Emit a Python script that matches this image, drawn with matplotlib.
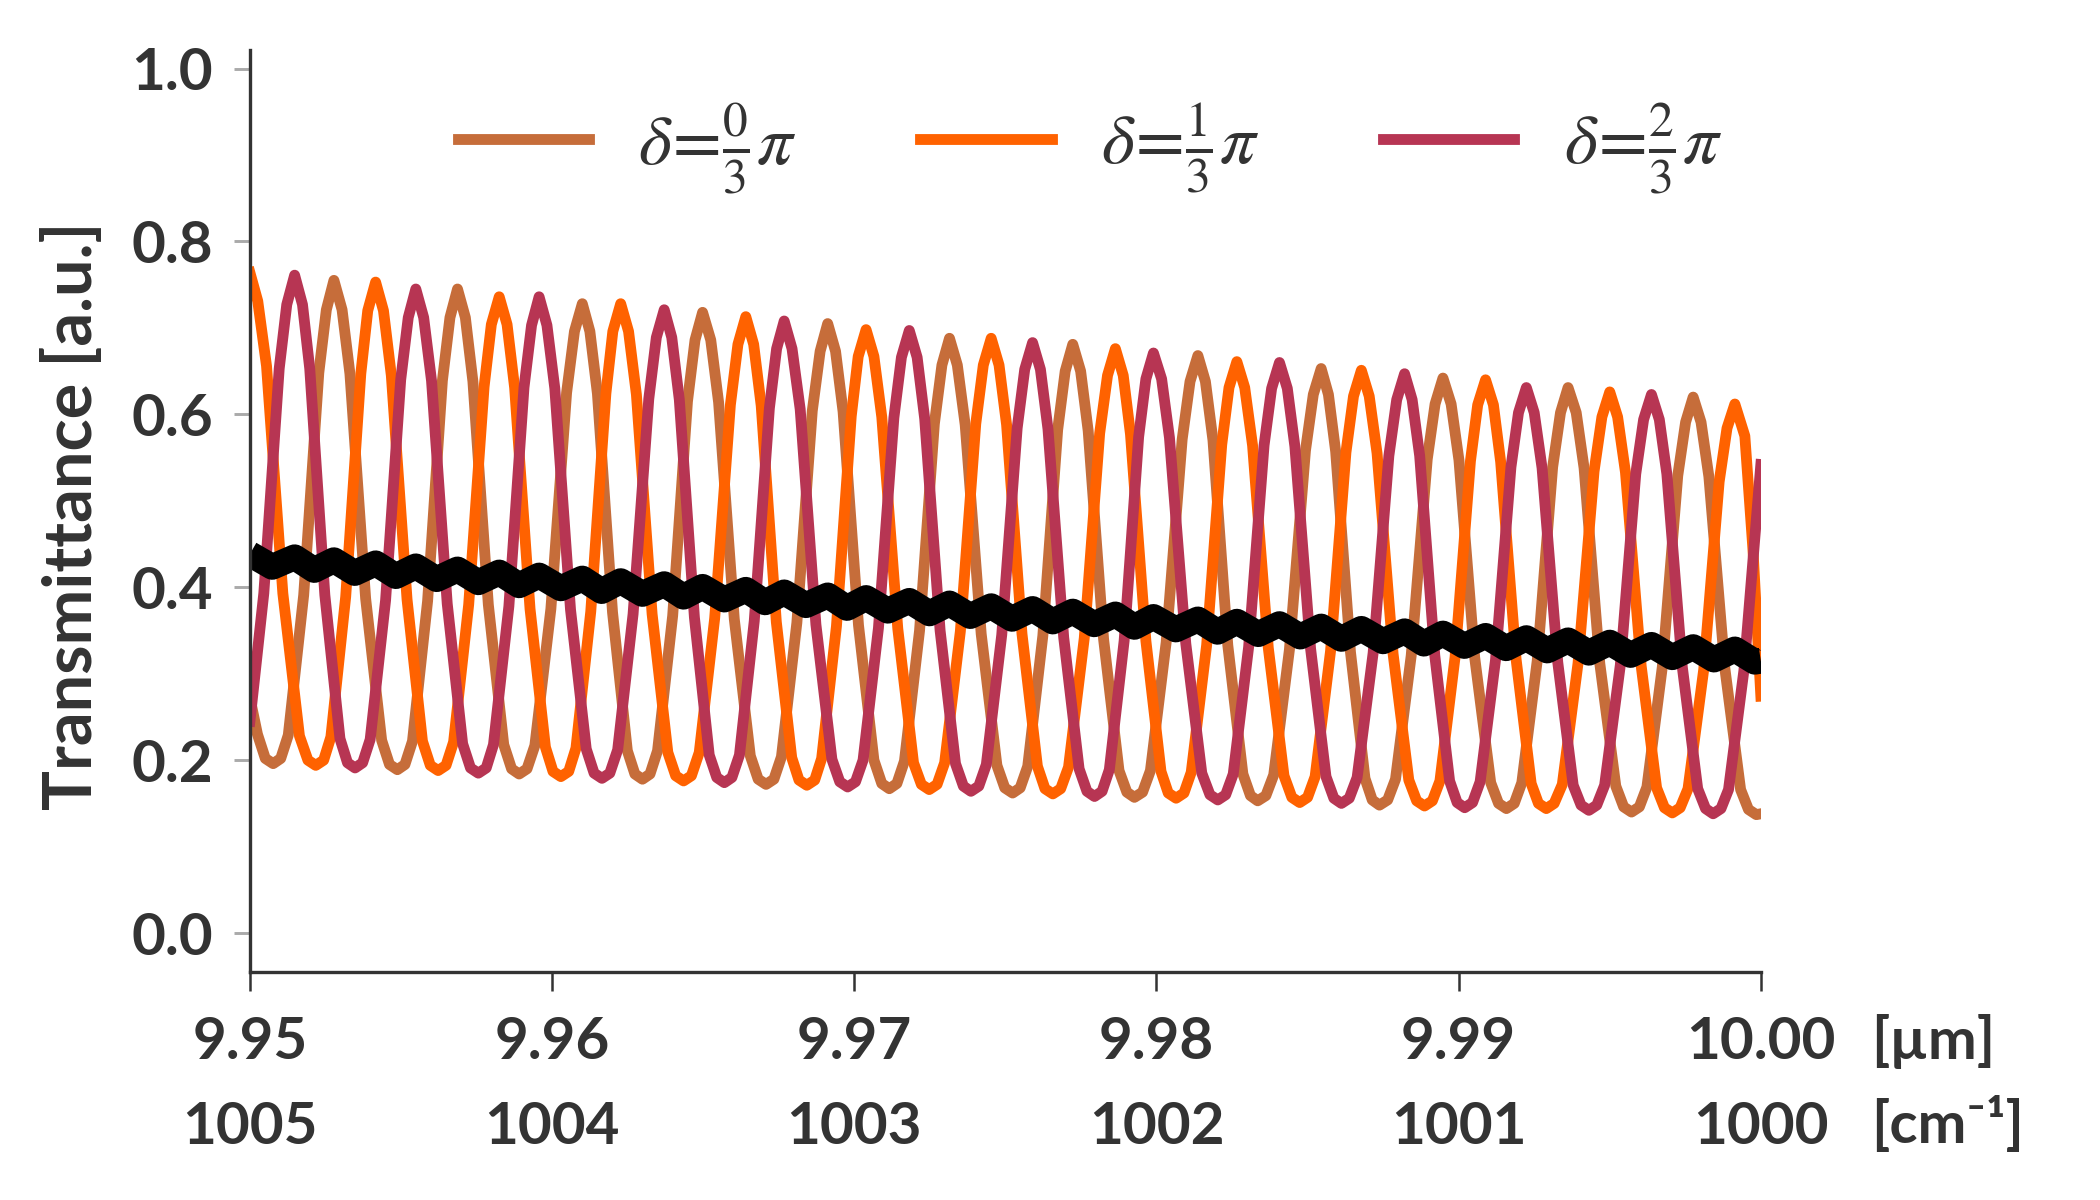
import numpy as np
import matplotlib
matplotlib.use("Agg")
import matplotlib.pyplot as plt

# ---- data (wavelength in um, transmittance a.u.) ----
x_ticks_um = [9.95, 9.96, 9.97, 9.98, 9.99, 10.00]
x_tick_labels_um = ["9.95", "9.96", "9.97", "9.98", "9.99", "10.00"]
x_tick_labels_cm = ["1005", "1004", "1003", "1002", "1001", "1000"]
y_ticks = [0.0, 0.2, 0.4, 0.6, 0.8, 1.0]

series_labels = [r"$\delta\!=\!\frac{0}{3}\pi$", r"$\delta\!=\!\frac{1}{3}\pi$", r"$\delta\!=\!\frac{2}{3}\pi$"]
series_colors = ["#c66d3a", "#ff6200", "#b73553"]

# delta = 0/3 pi
x_d0 = [9.95000, 9.95025, 9.95051, 9.95077, 9.95102, 9.95127, 9.95178, 9.95228, 9.95253, 9.95278,
        9.95305, 9.95331, 9.95383, 9.95436, 9.95462, 9.95488, 9.95513, 9.95538, 9.95588, 9.95637,
        9.95662, 9.95687, 9.95713, 9.95738, 9.95789, 9.95840, 9.95866, 9.95891, 9.95917, 9.95943,
        9.95996, 9.96048, 9.96074, 9.96100, 9.96125, 9.96150, 9.96200, 9.96249, 9.96274, 9.96299,
        9.96324, 9.96349, 9.96399, 9.96448, 9.96473, 9.96498, 9.96525, 9.96551, 9.96603, 9.96656,
        9.96682, 9.96708, 9.96734, 9.96759, 9.96810, 9.96861, 9.96887, 9.96912, 9.96938, 9.96963,
        9.97014, 9.97065, 9.97091, 9.97116, 9.97141, 9.97166, 9.97216, 9.97265, 9.97290, 9.97315,
        9.97341, 9.97367, 9.97420, 9.97472, 9.97498, 9.97524, 9.97549, 9.97574, 9.97624, 9.97673,
        9.97698, 9.97723, 9.97749, 9.97774, 9.97825, 9.97876, 9.97902, 9.97927, 9.97954, 9.97980,
        9.98032, 9.98085, 9.98111, 9.98137, 9.98162, 9.98187, 9.98236, 9.98286, 9.98311, 9.98335,
        9.98362, 9.98388, 9.98440, 9.98493, 9.98519, 9.98545, 9.98569, 9.98593, 9.98642, 9.98690,
        9.98714, 9.98738, 9.98765, 9.98791, 9.98843, 9.98896, 9.98922, 9.98948, 9.98975, 9.99001,
        9.99053, 9.99106, 9.99132, 9.99158, 9.99184, 9.99209, 9.99260, 9.99311, 9.99337, 9.99362,
        9.99389, 9.99415, 9.99467, 9.99520, 9.99546, 9.99572, 9.99598, 9.99623, 9.99674, 9.99725,
        9.99751, 9.99776, 9.99802, 9.99828, 9.99881, 9.99933, 9.99959, 9.99985, 10.00000]
y_d0 = [0.272, 0.230, 0.202, 0.196, 0.202, 0.229, 0.391, 0.648, 0.721, 0.755,
        0.721, 0.647, 0.387, 0.223, 0.195, 0.189, 0.195, 0.222, 0.384, 0.639,
        0.712, 0.745, 0.712, 0.638, 0.380, 0.218, 0.190, 0.184, 0.190, 0.217,
        0.375, 0.625, 0.696, 0.728, 0.696, 0.624, 0.371, 0.211, 0.184, 0.178,
        0.184, 0.211, 0.367, 0.615, 0.686, 0.718, 0.686, 0.614, 0.363, 0.205,
        0.178, 0.172, 0.178, 0.204, 0.359, 0.604, 0.673, 0.705, 0.673, 0.603,
        0.356, 0.200, 0.173, 0.167, 0.173, 0.199, 0.350, 0.589, 0.657, 0.688,
        0.657, 0.588, 0.346, 0.194, 0.168, 0.162, 0.168, 0.193, 0.344, 0.582,
        0.650, 0.681, 0.650, 0.581, 0.340, 0.188, 0.163, 0.157, 0.163, 0.188,
        0.336, 0.571, 0.638, 0.668, 0.638, 0.570, 0.333, 0.184, 0.159, 0.153,
        0.159, 0.183, 0.328, 0.558, 0.623, 0.653, 0.623, 0.557, 0.325, 0.179,
        0.154, 0.148, 0.154, 0.178, 0.321, 0.548, 0.612, 0.642, 0.612, 0.547,
        0.319, 0.174, 0.150, 0.144, 0.150, 0.174, 0.315, 0.539, 0.602, 0.631,
        0.602, 0.538, 0.312, 0.170, 0.146, 0.140, 0.146, 0.169, 0.308, 0.529,
        0.591, 0.620, 0.591, 0.528, 0.306, 0.166, 0.143, 0.137, 0.138]

# delta = 1/3 pi
x_d1 = [9.95000, 9.95026, 9.95055, 9.95109, 9.95164, 9.95192, 9.95218, 9.95244, 9.95268, 9.95317,
        9.95367, 9.95390, 9.95416, 9.95442, 9.95468, 9.95520, 9.95571, 9.95597, 9.95623, 9.95649,
        9.95674, 9.95724, 9.95775, 9.95799, 9.95825, 9.95851, 9.95876, 9.95927, 9.95978, 9.96003,
        9.96029, 9.96055, 9.96079, 9.96128, 9.96178, 9.96201, 9.96227, 9.96253, 9.96279, 9.96331,
        9.96383, 9.96409, 9.96435, 9.96461, 9.96487, 9.96538, 9.96590, 9.96615, 9.96641, 9.96667,
        9.96692, 9.96742, 9.96793, 9.96817, 9.96843, 9.96869, 9.96892, 9.96941, 9.96990, 9.97013,
        9.97039, 9.97065, 9.97091, 9.97144, 9.97196, 9.97222, 9.97248, 9.97274, 9.97299, 9.97351,
        9.97402, 9.97427, 9.97453, 9.97479, 9.97504, 9.97555, 9.97606, 9.97631, 9.97657, 9.97683,
        9.97709, 9.97761, 9.97812, 9.97838, 9.97864, 9.97890, 9.97914, 9.97965, 9.98015, 9.98039,
        9.98065, 9.98091, 9.98115, 9.98166, 9.98216, 9.98240, 9.98266, 9.98292, 9.98318, 9.98370,
        9.98422, 9.98448, 9.98474, 9.98500, 9.98525, 9.98576, 9.98627, 9.98652, 9.98678, 9.98704,
        9.98730, 9.98783, 9.98835, 9.98861, 9.98887, 9.98913, 9.98938, 9.98988, 9.99039, 9.99063,
        9.99089, 9.99115, 9.99139, 9.99190, 9.99240, 9.99264, 9.99290, 9.99316, 9.99343, 9.99395,
        9.99448, 9.99474, 9.99500, 9.99526, 9.99552, 9.99604, 9.99655, 9.99681, 9.99707, 9.99733,
        9.99759, 9.99811, 9.99862, 9.99888, 9.99914, 9.99947, 9.99974, 10.00000]
y_d1 = [0.764, 0.731, 0.656, 0.393, 0.228, 0.200, 0.194, 0.200, 0.227, 0.389,
        0.647, 0.720, 0.753, 0.720, 0.645, 0.386, 0.222, 0.194, 0.188, 0.194,
        0.221, 0.380, 0.632, 0.704, 0.736, 0.704, 0.631, 0.375, 0.215, 0.187,
        0.181, 0.187, 0.214, 0.372, 0.624, 0.696, 0.728, 0.696, 0.623, 0.369,
        0.209, 0.182, 0.176, 0.182, 0.209, 0.364, 0.611, 0.681, 0.713, 0.681,
        0.610, 0.360, 0.203, 0.177, 0.171, 0.177, 0.202, 0.355, 0.598, 0.667,
        0.698, 0.667, 0.597, 0.352, 0.197, 0.172, 0.166, 0.172, 0.197, 0.349,
        0.589, 0.657, 0.688, 0.657, 0.588, 0.346, 0.193, 0.167, 0.161, 0.167,
        0.192, 0.341, 0.578, 0.645, 0.676, 0.645, 0.577, 0.338, 0.187, 0.162,
        0.156, 0.162, 0.186, 0.333, 0.565, 0.631, 0.661, 0.631, 0.564, 0.330,
        0.182, 0.157, 0.151, 0.157, 0.181, 0.326, 0.556, 0.621, 0.651, 0.621,
        0.555, 0.323, 0.177, 0.153, 0.147, 0.153, 0.176, 0.319, 0.546, 0.611,
        0.640, 0.611, 0.545, 0.317, 0.173, 0.150, 0.144, 0.150, 0.172, 0.312,
        0.534, 0.597, 0.626, 0.597, 0.533, 0.309, 0.168, 0.145, 0.139, 0.145,
        0.167, 0.305, 0.522, 0.584, 0.612, 0.575, 0.443, 0.274]

# delta = 2/3 pi
x_d2 = [9.95000, 9.95046, 9.95097, 9.95122, 9.95148, 9.95174, 9.95198, 9.95248, 9.95298, 9.95323,
        9.95348, 9.95373, 9.95398, 9.95449, 9.95499, 9.95524, 9.95549, 9.95575, 9.95601, 9.95653,
        9.95704, 9.95730, 9.95756, 9.95782, 9.95806, 9.95857, 9.95907, 9.95932, 9.95957, 9.95983,
        9.96009, 9.96061, 9.96113, 9.96139, 9.96165, 9.96191, 9.96217, 9.96268, 9.96320, 9.96345,
        9.96371, 9.96396, 9.96421, 9.96471, 9.96520, 9.96545, 9.96570, 9.96595, 9.96620, 9.96669,
        9.96719, 9.96743, 9.96768, 9.96794, 9.96821, 9.96873, 9.96926, 9.96952, 9.96978, 9.97004,
        9.97029, 9.97080, 9.97131, 9.97156, 9.97182, 9.97208, 9.97233, 9.97284, 9.97335, 9.97361,
        9.97386, 9.97412, 9.97437, 9.97488, 9.97539, 9.97564, 9.97590, 9.97616, 9.97641, 9.97693,
        9.97744, 9.97770, 9.97795, 9.97820, 9.97844, 9.97893, 9.97941, 9.97965, 9.97990, 9.98017,
        9.98043, 9.98097, 9.98150, 9.98177, 9.98203, 9.98229, 9.98254, 9.98305, 9.98356, 9.98381,
        9.98407, 9.98433, 9.98458, 9.98510, 9.98561, 9.98587, 9.98612, 9.98638, 9.98664, 9.98717,
        9.98769, 9.98795, 9.98821, 9.98846, 9.98871, 9.98921, 9.98970, 9.98995, 9.99020, 9.99046,
        9.99071, 9.99122, 9.99173, 9.99198, 9.99224, 9.99250, 9.99276, 9.99328, 9.99379, 9.99405,
        9.99431, 9.99457, 9.99483, 9.99535, 9.99586, 9.99612, 9.99638, 9.99664, 9.99689, 9.99740,
        9.99791, 9.99817, 9.99842, 9.99868, 9.99893, 9.99944, 10.00000]
y_d2 = [0.245, 0.393, 0.653, 0.727, 0.761, 0.727, 0.653, 0.391, 0.225, 0.197,
        0.191, 0.197, 0.224, 0.385, 0.640, 0.712, 0.745, 0.712, 0.639, 0.381,
        0.219, 0.191, 0.185, 0.191, 0.218, 0.378, 0.631, 0.703, 0.736, 0.703,
        0.630, 0.374, 0.213, 0.185, 0.179, 0.185, 0.212, 0.369, 0.618, 0.689,
        0.721, 0.689, 0.617, 0.365, 0.206, 0.180, 0.174, 0.180, 0.206, 0.361,
        0.607, 0.676, 0.708, 0.676, 0.606, 0.357, 0.201, 0.175, 0.169, 0.175,
        0.200, 0.353, 0.596, 0.666, 0.697, 0.666, 0.595, 0.350, 0.196, 0.170,
        0.164, 0.170, 0.195, 0.345, 0.584, 0.652, 0.683, 0.652, 0.583, 0.342,
        0.190, 0.164, 0.158, 0.164, 0.189, 0.338, 0.574, 0.641, 0.671, 0.641,
        0.573, 0.335, 0.185, 0.160, 0.154, 0.160, 0.184, 0.331, 0.564, 0.630,
        0.660, 0.630, 0.563, 0.329, 0.181, 0.156, 0.150, 0.156, 0.180, 0.324,
        0.552, 0.617, 0.647, 0.617, 0.552, 0.321, 0.176, 0.151, 0.145, 0.151,
        0.175, 0.316, 0.539, 0.602, 0.631, 0.602, 0.538, 0.313, 0.171, 0.148,
        0.142, 0.148, 0.171, 0.310, 0.531, 0.594, 0.623, 0.594, 0.531, 0.308,
        0.167, 0.144, 0.138, 0.144, 0.166, 0.304, 0.542]

# mean of the three (black)
x_mean = [9.95000, 9.95074, 9.95148, 9.95213, 9.95278, 9.95347, 9.95416, 9.95483,
          9.95549, 9.95618, 9.95687, 9.95756, 9.95825, 9.95891, 9.95957, 9.96029,
          9.96100, 9.96164, 9.96227, 9.96299, 9.96371, 9.96435, 9.96498, 9.96570,
          9.96641, 9.96705, 9.96768, 9.96840, 9.96912, 9.96976, 9.97039, 9.97111,
          9.97182, 9.97249, 9.97315, 9.97384, 9.97453, 9.97522, 9.97590, 9.97657,
          9.97723, 9.97794, 9.97864, 9.97927, 9.97990, 9.98064, 9.98137, 9.98202,
          9.98266, 9.98337, 9.98407, 9.98476, 9.98545, 9.98612, 9.98678, 9.98750,
          9.98821, 9.98885, 9.98948, 9.99019, 9.99089, 9.99157, 9.99224, 9.99293,
          9.99362, 9.99431, 9.99500, 9.99569, 9.99638, 9.99707, 9.99776, 9.99845,
          9.99914, 9.99980, 10.00000]
y_mean = [0.4385, 0.4236, 0.4347, 0.4200, 0.4313, 0.4165, 0.4277, 0.4129,
          0.4242, 0.4094, 0.4206, 0.4058, 0.4171, 0.4023, 0.4136, 0.3988,
          0.4101, 0.3956, 0.4071, 0.3923, 0.4036, 0.3891, 0.4005, 0.3858,
          0.3971, 0.3826, 0.3941, 0.3793, 0.3906, 0.3761, 0.3876, 0.3729,
          0.3843, 0.3698, 0.3813, 0.3667, 0.3781, 0.3635, 0.3749, 0.3604,
          0.3719, 0.3572, 0.3686, 0.3542, 0.3657, 0.3512, 0.3628, 0.3485,
          0.3602, 0.3458, 0.3574, 0.3430, 0.3546, 0.3403, 0.3519, 0.3375,
          0.3491, 0.3348, 0.3465, 0.3321, 0.3438, 0.3295, 0.3412, 0.3269,
          0.3386, 0.3243, 0.3360, 0.3217, 0.3334, 0.3191, 0.3308, 0.3164,
          0.3281, 0.3139, 0.3150]

# ---- style ----
plt.rcParams['font.family'] = ['Lato', 'DejaVu Sans']
plt.rcParams['mathtext.fontset'] = 'stix'
text_color = '#333333'

fig = plt.figure(figsize=(7, 4), dpi=300)
ax = fig.add_axes([0.119, 0.19, 0.7195, 0.768])

# colored transmission curves, then the mean on top
lines = []
for xs, ys, c, lab in zip([x_d0, x_d1, x_d2], [y_d0, y_d1, y_d2], series_colors, series_labels):
    ln, = ax.plot(xs, ys, color=c, lw=2.6, label=lab, solid_joinstyle='round')
    lines.append(ln)
ax.plot(x_mean, y_mean, color='black', lw=6.2, solid_joinstyle='round', solid_capstyle='butt')

ax.set_xlim(9.95, 10.00)
ax.set_ylim(-0.045, 1.021)

# spines: only left and bottom
for side in ['top', 'right']:
    ax.spines[side].set_visible(False)
for side in ['left', 'bottom']:
    ax.spines[side].set_color('#333333')
    ax.spines[side].set_linewidth(0.8)

# y axis
ax.set_yticks(y_ticks)
ax.set_yticklabels([f"{v:.1f}" for v in y_ticks], fontweight='bold')
ax.tick_params(axis='y', length=3.8, width=0.7, color='#aaaaaa', pad=5.0,
               labelsize=14, labelcolor=text_color)

# x axis: wavelength row + wavenumber row
ax.set_xticks(x_ticks_um)
ax.set_xticklabels([f"{a}\n{b}" for a, b in zip(x_tick_labels_um, x_tick_labels_cm)],
                   linespacing=1.75, fontweight='bold')
ax.tick_params(axis='x', length=4.5, width=0.6, color='#333333', pad=6.0,
               labelsize=14, labelcolor=text_color)

fig.text(0.891, 0.1317, "[µm]", ha='left', va='center', fontsize=14,
         color=text_color, fontweight='bold')
fig.text(0.891, 0.0625, "[cm⁻¹]", ha='left', va='center', fontsize=14,
         color=text_color, fontweight='bold')

fig.text(0.035, 0.57, "Transmittance [a.u.]", rotation=90, ha='center', va='center',
         fontsize=16, color=text_color, fontweight='bold')

leg = fig.legend(handles=lines, labels=series_labels, loc='center',
                 bbox_to_anchor=(0.519, 0.877), ncol=3, frameon=False,
                 prop={'size': 17, 'weight': 'normal'}, handlelength=1.85,
                 handletextpad=0.7, columnspacing=1.75)
for t in leg.get_texts():
    t.set_color(text_color)

fig.savefig("out.png", dpi=300)
